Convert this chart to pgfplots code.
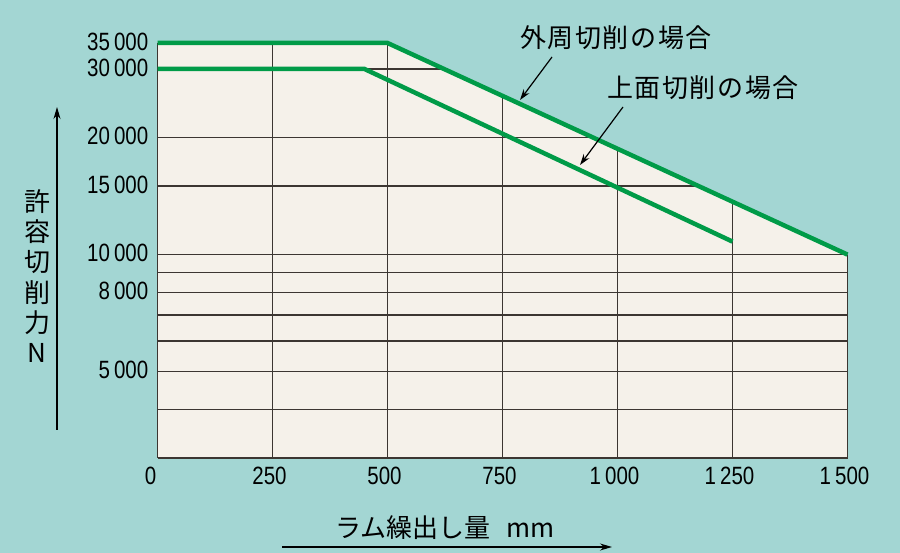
\documentclass[border=0pt]{standalone}
\usepackage{pgfplots}
\pgfplotsset{compat=1.18}
\usetikzlibrary{arrows.meta}
\usepackage{fontspec}
\setmainfont{Liberation Sans}
\newfontfamily\numfont[FakeStretch=0.82]{Liberation Sans}
\newfontfamily\jpfont{Noto Sans CJK JP}
\newfontfamily\jpwide[LetterSpace=6]{Noto Sans CJK JP}

\definecolor{bgteal}{RGB}{163,214,211}
\definecolor{cream}{RGB}{245,241,234}
\definecolor{lgreen}{RGB}{0,155,72}
\definecolor{gridc}{RGB}{60,54,50}

\begin{document}
\begin{tikzpicture}[x=1pt,y=1pt]
\fill[bgteal] (0,0) rectangle (900,553);
\begin{axis}[
    at={(157.5pt,95pt)}, anchor=south west,
    scale only axis, width=690pt, height=415pt,
    xmin=0, xmax=1500,
    ymode=log, ymin=3000, ymax=35000,
    axis background/.style={fill=cream},
    axis lines=left,
    axis line style={-, draw=gridc, line width=1.3pt},
    xtick={0,250,...,1500},
    xticklabels={0\hspace*{8pt},250,500,750,1\,000,1\,250,1\,500},
    ytick={5000,8000,10000,15000,20000,30000,35000},
    yticklabels={5\,000,8\,000,10\,000,15\,000,20\,000,30\,000,35\,000},
    extra y ticks={4000,6000,7000,9000},
    extra y tick labels={,,,},
    extra y tick style={grid=major},
    grid=major,
    major grid style={draw=gridc, line width=1.3pt},
    major tick length=0pt, minor tick length=0pt,
    tick label style={font=\fontsize{25}{25}\numfont, text=black, inner sep=0pt},
    xticklabel style={yshift=-9pt, xshift=-3pt},
    yticklabel style={xshift=-9pt, yshift=1.5pt},
    clip=false,
]
% cover the grid above the outer limit line
\addplot[fill=bgteal, draw=none, forget plot] coordinates
    {(500,35000) (1500,10000) (1520,10000) (1520,40000) (500,40000)} -- cycle;
% outer cutting
\addplot[lgreen, line width=4.5pt] coordinates {(0,35000) (500,35000) (1500,10000)};
% top-face cutting
\addplot[lgreen, line width=4.5pt] coordinates {(0,30000) (450,30000) (1250,10800)};
\end{axis}

\node[font=\fontsize{26}{26}\jpwide] at (616,515.5) {外周切削の場合};
\node[font=\fontsize{26}{26}\jpwide] at (703,465.5) {上面切削の場合};
\draw[-{Stealth[length=11pt,width=7pt]}, line width=1.2pt] (552,496) -- (520,453);
\draw[-{Stealth[length=11pt,width=7pt]}, line width=1.2pt] (623,446) -- (580,388);

\node[align=center, font=\fontsize{26}{30.3}\jpfont] at (37,277) {許\\容\\切\\削\\力\\N};
\draw[-{Stealth[length=12pt,width=7pt]}, line width=1.2pt] (57,123) -- (57,446);

\node[font=\fontsize{26}{26}\jpfont] at (445,25) {ラム繰出し量\hspace{0.6em}mm};
\draw[-{Stealth[length=12pt,width=7pt]}, line width=1.2pt] (282,6) -- (612,6);
\end{tikzpicture}
\end{document}
